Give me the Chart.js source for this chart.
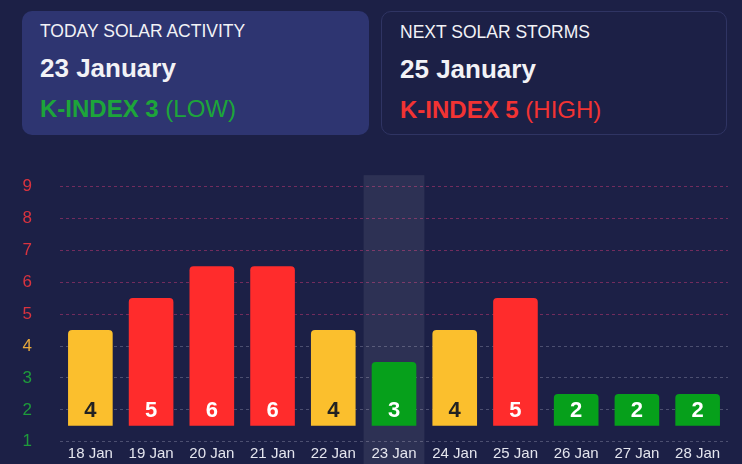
<!DOCTYPE html>
<html>
<head>
<meta charset="utf-8">
<title>Solar activity</title>
<script src="https://cdn.jsdelivr.net/npm/chart.js@4.4.1/dist/chart.umd.min.js"></script>
<style>
  html, body { margin: 0; padding: 0; }
  body {
    width: 742px; height: 464px; overflow: hidden; position: relative;
    background: #1c2046; font-family: "Liberation Sans", Arial, sans-serif; color: #f2f2f6;
  }
  .card { position: absolute; top: 11px; height: 124px; border-radius: 10px; box-sizing: border-box; }
  .card.today { left: 22px; width: 347px; background: #2e3571; }
  .card.next { left: 381px; width: 346px; border: 1px solid #2f3463; }
  .card div { position: absolute; left: 18px; white-space: nowrap; }
  .card .title { top: 12px; font-size: 17.5px; line-height: 17px; }
  .card .date { top: 44px; font-size: 26px; line-height: 26px; font-weight: bold; }
  .card .kidx { top: 86px; font-size: 24px; line-height: 24px; }
  .card .kidx b { font-weight: bold; }
  .low { color: #1da53a; }
  .high { color: #f23333; }
  #chart { position: absolute; left: 0; top: 137px; display: block; }
</style>
</head>
<body>
<canvas id="chart" width="742" height="343"></canvas>
<div class="card today">
  <div class="title">TODAY SOLAR ACTIVITY</div>
  <div class="date">23 January</div>
  <div class="kidx low"><b>K-INDEX 3</b> (LOW)</div>
</div>
<div class="card next">
  <div class="title">NEXT SOLAR STORMS</div>
  <div class="date">25 January</div>
  <div class="kidx high"><b>K-INDEX 5</b> (HIGH)</div>
</div>
<script>
const days = ['18 Jan', '19 Jan', '20 Jan', '21 Jan', '22 Jan', '23 Jan', '24 Jan', '25 Jan', '26 Jan', '27 Jan', '28 Jan'];
const kIndex = [4, 5, 6, 6, 4, 3, 4, 5, 2, 2, 2];
const yTicks = [1, 2, 3, 4, 5, 6, 7, 8, 9];
const today = '23 Jan';

function levelColor(k) {
  if (k >= 5) return '#ff2c2c';
  if (k === 4) return '#fbbf2d';
  return '#06a01b';
}
function tickColor(k) {
  if (k >= 5) return '#d9333f';
  if (k === 4) return '#e8a83b';
  return '#1e9b3b';
}

// light band behind today's bar
const todayBand = {
  id: 'todayBand',
  beforeDatasetsDraw(chart) {
    const x = chart.scales.x;
    const i = days.indexOf(today);
    const w = x.width / days.length;
    const cx = x.getPixelForValue(i);
    const c = chart.ctx;
    c.save();
    c.fillStyle = 'rgba(255,255,255,0.08)';
    c.fillRect(cx - w / 2, chart.chartArea.top, w, chart.height - chart.chartArea.top);
    c.restore();
  }
};

// k-index number near the bottom of each bar
const barNumbers = {
  id: 'barNumbers',
  afterDatasetsDraw(chart) {
    const c = chart.ctx;
    const meta = chart.getDatasetMeta(0);
    c.save();
    c.font = 'bold 22px "Liberation Sans", Arial, sans-serif';
    c.textAlign = 'center';
    c.textBaseline = 'middle';
    meta.data.forEach((bar, i) => {
      const k = kIndex[i];
      c.fillStyle = k === 4 ? '#222222' : '#ffffff';
      c.fillText(String(k), bar.x, bar.base - 15);
    });
    c.restore();
  }
};

new Chart(document.getElementById('chart'), {
  type: 'bar',
  data: {
    labels: days,
    datasets: [{
      label: 'K-index',
      // bars sit between the tick rows: from 1.5 up to k + 0.5
      data: kIndex.map(k => [1.5, k + 0.5]),
      backgroundColor: kIndex.map(levelColor),
      borderRadius: 4,
      barPercentage: 0.735,
      categoryPercentage: 1
    }]
  },
  options: {
    responsive: false,
    animation: false,
    layout: { padding: { top: 25, right: 14, left: 0, bottom: 0 } },
    plugins: { legend: { display: false }, tooltip: { enabled: false } },
    scales: {
      x: {
        grid: { display: false, drawTicks: false },
        border: { display: false },
        ticks: {
          color: '#e4e5ee',
          padding: 3,
          font: { family: '"Liberation Sans", Arial, sans-serif', size: 15 }
        },
        afterFit: s => { s.height = 22; }
      },
      y: {
        min: 1,
        max: 9.35,
        afterBuildTicks: axis => { axis.ticks = yTicks.map(v => ({ value: v })); },
        afterFit: s => { s.width = 60; },
        border: { display: false, dash: [3, 3] },
        grid: {
          drawTicks: false,
          color: ctx => ctx.tick && ctx.tick.value >= 5 ? 'rgba(200,55,115,0.5)' : 'rgba(150,150,175,0.4)'
        },
        ticks: {
          padding: 28,
          color: ctx => tickColor(ctx.tick.value),
          font: { family: '"Liberation Sans", Arial, sans-serif', size: 17 }
        }
      }
    }
  },
  plugins: [todayBand, barNumbers]
});
</script>
</body>
</html>
